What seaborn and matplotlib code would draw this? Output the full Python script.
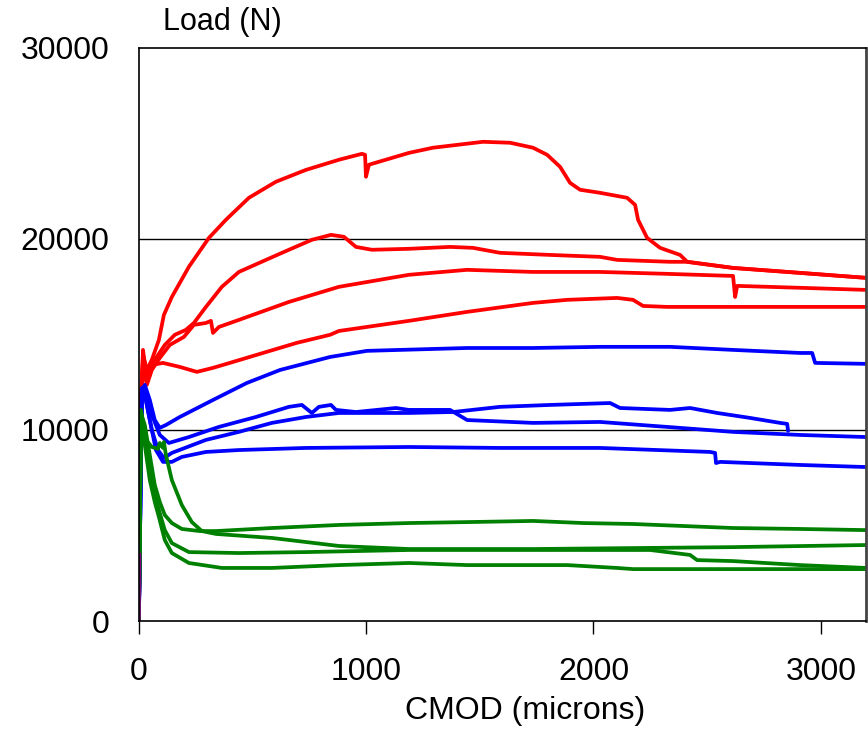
import pandas as pd
import matplotlib
matplotlib.use('Agg')
import matplotlib.pyplot as plt
import seaborn as sns

# CMOD (microns) / Load (N) traces
red1_x = [0, 9, 18, 35, 57, 88, 110, 145, 220, 308, 383, 484, 603, 735, 880, 981, 995, 999, 1012,
          1188, 1294, 1514, 1633, 1734, 1796, 1853, 1897, 1941, 2029, 2148, 2183, 2196, 2236, 2293,
          2381, 2412, 2614, 2909, 3200]
red1_y = [0, 11570, 13930, 13140, 13670, 14710, 16020, 16960, 18540, 20050, 21000, 22150, 22990,
          23610, 24140, 24450, 24400, 23250, 23880, 24500, 24770, 25080, 25030, 24770, 24400, 23770,
          22930, 22570, 22410, 22150, 21780, 21000, 20050, 19530, 19160, 18800, 18480, 18220, 17960]

red2_x = [0, 9, 18, 31, 48, 70, 114, 158, 207, 242, 295, 365, 440, 559, 660, 761, 845, 902, 955,
          1025, 1188, 1369, 1470, 1589, 1809, 2029, 2104, 2337, 2412, 2614, 2909, 3200]
red2_y = [0, 11050, 13670, 12620, 13400, 13670, 14450, 14980, 15240, 15600, 16440, 17490, 18270,
          18900, 19430, 19950, 20210, 20110, 19580, 19430, 19480, 19580, 19530, 19270, 19160, 19060,
          18900, 18800, 18800, 18480, 18220, 17960]

red3_x = [0, 9, 18, 35, 57, 92, 136, 198, 242, 295, 317, 326, 352, 440, 660, 880, 1188, 1444, 1734,
          2029, 2324, 2614, 2623, 2632, 2909, 3200]
red3_y = [0, 11570, 13400, 12360, 13140, 13770, 14450, 14870, 15500, 15600, 15710, 15080, 15390,
          15760, 16700, 17490, 18120, 18380, 18270, 18270, 18170, 18060, 16960, 17540, 17440, 17330]

red4_x = [0, 9, 18, 31, 57, 106, 180, 255, 326, 400, 546, 695, 841, 880, 1188, 1444, 1734, 1884,
          2104, 2174, 2218, 2324, 2614, 3200]
red4_y = [0, 10520, 14190, 13040, 13400, 13510, 13300, 13040, 13250, 13510, 14030, 14560, 14980,
          15180, 15710, 16180, 16650, 16810, 16910, 16810, 16490, 16440, 16440, 16440]

blue1_x = [0, 13, 26, 48, 70, 92, 119, 180, 326, 475, 621, 841, 1003, 1149, 1444, 1734, 2029, 2337,
           2614, 2909, 2962, 2975, 3200]
blue1_y = [0, 12100, 12360, 11570, 10520, 10110, 10260, 10680, 11570, 12460, 13140, 13820, 14140,
           14190, 14290, 14290, 14350, 14350, 14190, 14030, 14030, 13510, 13460]

blue2_x = [0, 13, 31, 57, 92, 132, 220, 352, 515, 660, 717, 761, 792, 845, 867, 955, 1131, 1188,
           1369, 1444, 1734, 2029, 2324, 2614, 2909, 3200]
blue2_y = [0, 11990, 12100, 10790, 9740, 9320, 9630, 10160, 10680, 11210, 11310, 10890, 11210, 11310,
           11050, 10940, 11150, 11050, 11050, 10520, 10370, 10420, 10160, 9900, 9740, 9630]

blue3_x = [0, 13, 31, 57, 84, 110, 145, 295, 440, 585, 735, 880, 1025, 1188, 1382, 1589, 1809, 2073,
           2117, 2337, 2425, 2544, 2689, 2821, 2852, 2856]
blue3_y = [0, 11830, 11570, 10000, 8950, 8530, 8800, 9480, 9900, 10370, 10680, 10890, 10890, 10890,
           10940, 11210, 11310, 11410, 11150, 11050, 11150, 10890, 10630, 10370, 10320, 9950]

blue4_x = [0, 13, 26, 48, 75, 106, 145, 189, 295, 440, 735, 1188, 1589, 2029, 2513, 2535, 2539, 2557,
           2909, 3200]
blue4_y = [0, 12200, 11830, 10520, 8950, 8330, 8330, 8590, 8850, 8950, 9060, 9110, 9060, 9060, 8850,
           8800, 8270, 8330, 8170, 8060]

green1_x = [0, 9, 26, 48, 70, 92, 114, 145, 189, 268, 339, 585, 880, 1188, 1444, 1734, 1954, 2174,
            2614, 2909, 3200]
green1_y = [0, 10890, 10260, 8690, 7120, 6230, 5550, 5130, 4820, 4710, 4710, 4870, 5030, 5130, 5180,
            5240, 5130, 5080, 4870, 4820, 4760]

green2_x = [0, 9, 31, 57, 84, 92, 106, 110, 119, 145, 189, 233, 277, 339, 585, 880, 1188, 1734, 2174,
            2614, 3200]
green2_y = [0, 11050, 9480, 9110, 9010, 9320, 9060, 9370, 8690, 7380, 6070, 5180, 4710, 4560, 4350,
            3930, 3770, 3770, 3820, 3870, 3980]

green3_x = [0, 9, 26, 48, 70, 88, 114, 145, 220, 440, 735, 1188, 1734, 2249, 2425, 2456, 2614, 2909,
            3200]
green3_y = [0, 10790, 9480, 7910, 6600, 5810, 4760, 4080, 3610, 3560, 3610, 3720, 3720, 3720, 3460,
            3190, 3140, 2930, 2780]

green4_x = [0, 9, 26, 48, 70, 88, 114, 145, 220, 365, 585, 880, 1188, 1444, 1884, 2104, 2174, 2614,
            3200]
green4_y = [0, 10630, 9220, 7380, 6230, 5450, 4240, 3560, 3040, 2780, 2780, 2930, 3040, 2930, 2930,
            2780, 2720, 2720, 2720]

purple_x = [0, 1, 2]
purple_y = [0, 2500, 3500]

series = [
    ('red1', 'red', red1_x, red1_y), ('red2', 'red', red2_x, red2_y),
    ('red3', 'red', red3_x, red3_y), ('red4', 'red', red4_x, red4_y),
    ('blue1', 'blue', blue1_x, blue1_y), ('blue2', 'blue', blue2_x, blue2_y),
    ('blue3', 'blue', blue3_x, blue3_y), ('blue4', 'blue', blue4_x, blue4_y),
    ('green1', 'green', green1_x, green1_y), ('green2', 'green', green2_x, green2_y),
    ('green3', 'green', green3_x, green3_y), ('green4', 'green', green4_x, green4_y),
    ('purple', 'purple', purple_x, purple_y),
]

frames = []
for name, grp, xs, ys in series:
    frames.append(pd.DataFrame({'cmod': xs, 'load': ys, 'curve': name, 'group': grp}))
df = pd.concat(frames, ignore_index=True)

sns.set_style('white')
plt.rcParams['font.family'] = ['Liberation Sans', 'DejaVu Sans']
plt.rcParams['text.color'] = 'black'
plt.rcParams['xtick.color'] = 'black'
plt.rcParams['ytick.color'] = 'black'

fig = plt.figure(figsize=(8.68, 7.35), dpi=100)
ax = fig.add_axes([0.160, 0.155, 0.838, 0.780])

pal = {'red': '#FF0000', 'blue': '#0000FF', 'green': '#008000', 'purple': '#800080'}
sns.lineplot(data=df, x='cmod', y='load', hue='group', units='curve', estimator=None,
             sort=False, palette=pal, linewidth=2.7, legend=False, ax=ax)

ax.set_xlim(0, 3200)
ax.set_ylim(0, 30000)
ax.set_xticks([0, 1000, 2000, 3000])
ax.set_yticks([0, 10000, 20000, 30000])
ax.set_xlabel('')
ax.set_ylabel('')
for y in [10000, 20000]:
    ax.axhline(y, color='black', lw=1.0, zorder=0)

for s in ['left', 'bottom', 'top']:
    ax.spines[s].set_color('black')
    ax.spines[s].set_linewidth(1.2)
ax.spines['right'].set_color('#444444')
ax.spines['right'].set_linewidth(2)

ax.tick_params(axis='x', direction='out', length=9, width=1, color='black',
               labelsize=23, pad=17, bottom=True, labelcolor='black')
ax.tick_params(axis='y', length=0, labelsize=23, pad=21, labelcolor='black')

fig.text(163 / 868, 1 - 22 / 735, 'Load (N)', fontsize=22, ha='left', va='center', color='black')
fig.text(525 / 868, 1 - 711 / 735, 'CMOD (microns)', fontsize=23, ha='center', va='center',
         color='black')

fig.savefig('out.png', dpi=100)
